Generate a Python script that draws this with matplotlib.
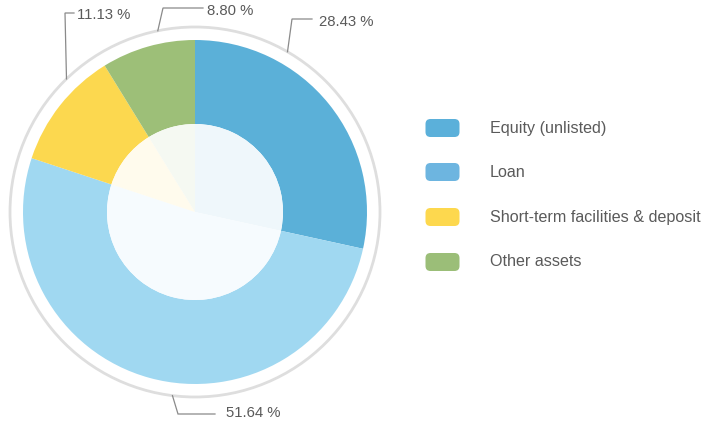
import numpy as np
import matplotlib
matplotlib.use("Agg")
import matplotlib.pyplot as plt
from matplotlib.patches import Circle, FancyBboxPatch
from matplotlib.colors import to_rgb

# --- data ---
categories = ["Equity (unlisted)", "Loan", "Short-term facilities & deposit", "Other assets"]
shares     = [28.43, 51.64, 11.13, 8.80]
pie_colors = ["#5bb0d8", "#a0d8f1", "#fcd84f", "#9dbf78"]
leg_colors = ["#5bb0da", "#6db5e0", "#fdd84e", "#9bbe78"]
labels     = [f"{v:.2f} %" for v in shares]

W, H = 705, 423
CX, CY = 195, 211          # centre du camembert (pixels, y vers le haut)
R_OUT, R_IN, R_RING = 172, 88, 185
TXT = "#5a5a5a"
LINE = "#8a8a8a"
FONT = "Liberation Sans"

# lignes de rappel : angle d'ancrage, coude, fin de trait, texte (x, y) en pixels écran
leaders = [
    (60,   (292, 19),  312, (319, 22)),
    (-97,  (178, 414), 215, (226, 413)),
    (134,  (65, 13),   74,  (77, 15)),
    (101.6, (163, 8),  203, (207, 11)),
]


def tint(c, k=0.9):
    r, g, b = to_rgb(c)
    return (r + (1 - r) * k, g + (1 - g) * k, b + (1 - b) * k)


fig = plt.figure(figsize=(W / 100, H / 100), dpi=100)
ax = fig.add_axes([0, 0, 1, 1])

# anneau gris extérieur
ax.add_patch(Circle((CX, CY), R_RING, fill=False, ec="#dedede", lw=2))

# couronne
ax.pie(shares, colors=pie_colors, startangle=90, counterclock=False,
       radius=R_OUT, center=(CX, CY), frame=True,
       wedgeprops=dict(width=R_OUT - R_IN, linewidth=0))
# centre teinté
ax.pie(shares, colors=[tint(c) for c in pie_colors], startangle=90, counterclock=False,
       radius=R_IN, center=(CX, CY), frame=True,
       wedgeprops=dict(linewidth=0))
ax.set_xlim(0, W)
ax.set_ylim(0, H)
ax.set_aspect("equal")
ax.axis("off")

# étiquettes avec lignes de rappel
for lab, (ang, (ex, ey), lx, (tx, ty)) in zip(labels, leaders):
    a = np.deg2rad(ang)
    x0, y0 = CX + R_RING * np.cos(a), CY + R_RING * np.sin(a)
    ax.plot([x0, ex, lx], [y0, H - ey, H - ey], color=LINE, lw=0.9,
            solid_joinstyle="miter")
    ax.text(tx, H - ty, lab, ha="left", va="center", fontsize=10.7,
            color=TXT, family=FONT)

# légende
leg_y = [128, 172, 217, 262]
for cat, col, y in zip(categories, leg_colors, leg_y):
    ax.add_patch(FancyBboxPatch((428, H - y - 6.5), 29, 13,
                                boxstyle="round,pad=2.5,rounding_size=5",
                                fc=col, ec="none"))
    ax.text(490, H - y, cat, ha="left", va="center", fontsize=11.6,
            color=TXT, family=FONT)

fig.savefig("out.png", dpi=100)
